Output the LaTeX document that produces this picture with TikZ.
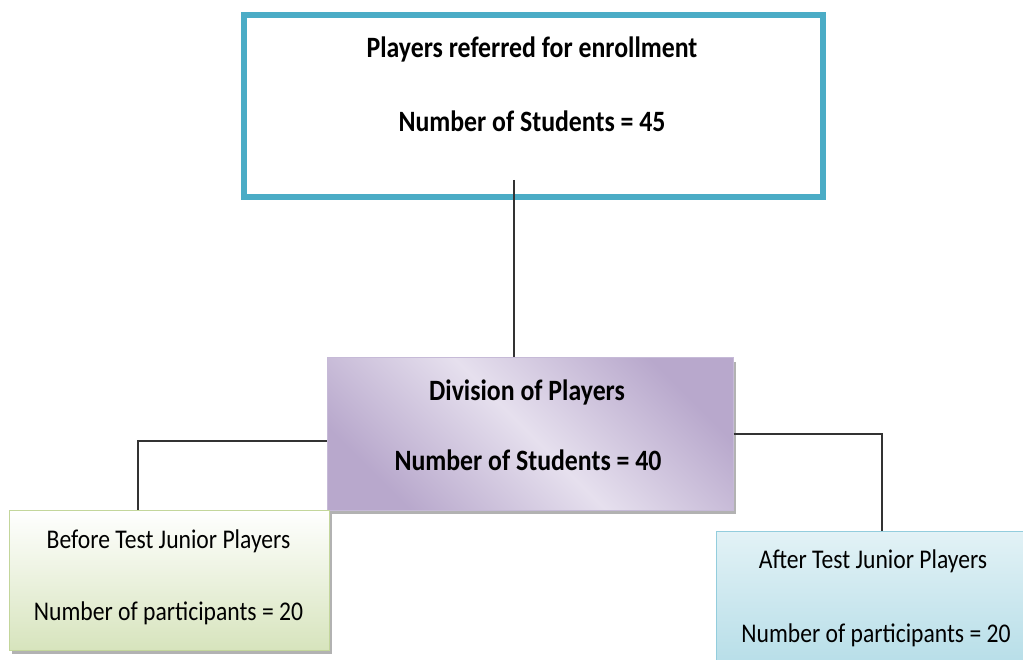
\documentclass[tikz,border=0pt]{standalone}
\usepackage{fontspec}
\setmainfont{Carlito}[FakeStretch=0.875]
\usetikzlibrary{shadows}
\definecolor{tealline}{HTML}{4BACC6}
\definecolor{lilacdark}{HTML}{B8A8CC}
\definecolor{lilaclight}{HTML}{E6E0EE}
\definecolor{lilacline}{HTML}{C6BAD7}
\definecolor{greenfill}{HTML}{D7E4BD}
\definecolor{greenline}{HTML}{C3D69B}
\definecolor{bluefill}{HTML}{B7DEE8}
\definecolor{blueline}{HTML}{93CDDD}

\begin{document}
\begin{tikzpicture}[x=1pt,y=-1pt,
    box/.style={rectangle,inner sep=0pt},
    txt/.style={anchor=base,font=\fontsize{27}{32}\selectfont},
    boldtxt/.style={anchor=base,font=\fontsize{29.5}{35}\selectfont\bfseries},
    link/.style={draw=black!80,line width=1.5pt},
    boxshadow/.style={drop shadow={shadow xshift=3pt,shadow yshift=-4pt,fill=black!30,opacity=1}}]
    \useasboundingbox (0,0) rectangle (1023,660);

    % boxes
    \node[box,draw=tealline,line width=6pt,minimum width=579pt,minimum height=182pt] (enrol) at (533.5,106) {};
    \node[box,boxshadow,draw=lilacline,line width=1pt,left color=lilacdark,right color=lilacdark,middle color=lilaclight,shading angle=135,minimum width=406pt,minimum height=152pt] (division) at (530,434) {};
    \node[box,boxshadow,draw=greenline,line width=1pt,top color=white,bottom color=greenfill,minimum width=320pt,minimum height=140pt] (before) at (169,580) {};
    \node[box,boxshadow,draw=blueline,line width=1pt,top color=bluefill!40,bottom color=bluefill,minimum width=318pt,minimum height=134pt] (after) at (875,598) {};

    % texts
    \node[boldtxt] (enrolA) at (532,58) {Players referred for enrollment};
    \node[boldtxt] (enrolB) at (532,132) {Number of Students = 45};
    \node[boldtxt] (divisionA) at (527,400) {Division of Players};
    \node[boldtxt] (divisionB) at (528,470) {Number of Students = 40};
    \node[txt] (beforeA) at (168.5,548) {Before Test Junior Players};
    \node[txt] (beforeB) at (168.5,620) {Number of participants = 20};
    \node[txt] (afterA) at (873,568) {After Test Junior Players};
    \node[txt] (afterB) at (876,642) {Number of participants = 20};

    % connectors
    \coordinate (stem) at (514,180);
    \draw[link] (stem) -- (stem |- division.north);
    \draw[link] ([yshift=-7pt]division.west) -| ([xshift=-31pt]before.north);
    \draw[link] (division.east) -| ([xshift=7pt]after.north);
\end{tikzpicture}
\end{document}
